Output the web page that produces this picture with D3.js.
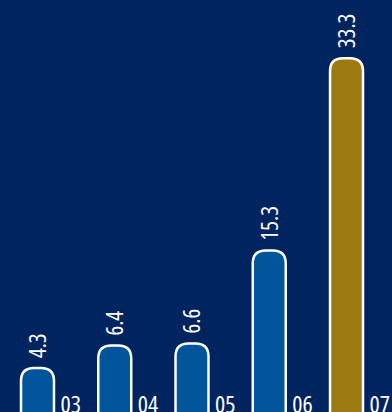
<!DOCTYPE html>
<html>
<head>
<meta charset="utf-8">
<script src="https://cdn.jsdelivr.net/npm/d3@7"></script>
<style>
  html, body { margin: 0; padding: 0; background: #00245f; overflow: hidden; }
  text { font-family: "Open Sans", "DejaVu Sans", sans-serif; font-stretch: 75%; fill: #fff; }
</style>
</head>
<body>
<div id="chart"></div>
<script>
// data
var years = ['03', '04', '05', '06', '07'];
var values = [4.3, 6.4, 6.6, 15.3, 33.3];
var highlight = ['07'];

var w = 392, h = 412;

var color = {
  bg: '#00245f',
  bar: '#02549b',
  gold: '#9d7b12',
  line: '#ffffff'
};

var svg = d3.select('#chart').append('svg')
            .attr('width', w)
            .attr('height', h);

svg.append('rect')
   .attr('width', w)
   .attr('height', h)
   .attr('fill', color.bg);

// scales
var xScale = d3.scaleBand().domain(years).range([21, 363]).paddingInner(0.573).paddingOuter(0),
    yScale = d3.scaleLinear().domain([0, 35]).range([414, 40]);

var bw = xScale.bandwidth();
var r = 13;

// bar with rounded top, open below the picture edge
function barPath(d) {
  var x0 = xScale(d.year), x1 = x0 + bw,
      top = yScale(d.value), bottom = h + 10;
  return 'M' + x0 + ',' + bottom +
         'L' + x0 + ',' + (top + r) +
         'Q' + x0 + ',' + top + ' ' + (x0 + r) + ',' + top +
         'L' + (x1 - r) + ',' + top +
         'Q' + x1 + ',' + top + ' ' + x1 + ',' + (top + r) +
         'L' + x1 + ',' + bottom + 'Z';
}

var data = years.map(function(y, i) { return {year: y, value: values[i]}; });

var bar = svg.selectAll('.bar')
             .data(data)
             .enter().append('g')
             .attr('class', 'bar');

bar.append('path')
   .attr('d', barPath)
   .attr('fill', function(d) { return highlight.indexOf(d.year) > -1 ? color.gold : color.bar; })
   .attr('stroke', color.line)
   .attr('stroke-width', 2.5);

// value labels, rotated
bar.append('text')
   .attr('transform', function(d) {
     return 'translate(' + (xScale(d.year) + bw / 2) + ',' + (yScale(d.value) - 10) + ')rotate(-90)';
   })
   .attr('dy', '0.36em')
   .attr('text-anchor', 'start')
   .style('font-size', '23px')
   .text(function(d) { return d.value.toFixed(1); });

// year labels next to the bars
bar.append('text')
   .attr('x', function(d) { return xScale(d.year) + bw + 6.5; })
   .attr('y', 413)
   .style('font-size', '24px')
   .text(function(d) { return d.year; });
</script>
</body>
</html>
